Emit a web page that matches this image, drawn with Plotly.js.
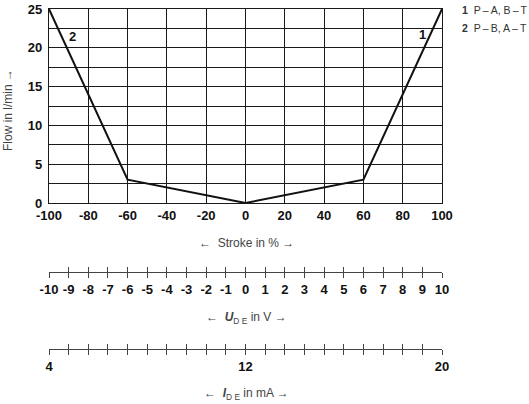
<!DOCTYPE html>
<html>
<head>
<meta charset="utf-8">
<script src="https://cdn.plot.ly/plotly-3.0.1.min.js"></script>
<style>html,body{margin:0;padding:0;background:#fff;}#chart{width:529px;height:404px;}</style>
</head>
<body>
<div id="chart"></div>
<script>
// Curve 1: P – A, B – T (positive stroke)
const stroke1 = [0, 60, 100];
const flow1 = [0, 3, 25];
// Curve 2: P – B, A – T (negative stroke)
const stroke2 = [-100, -60, 0];
const flow2 = [25, 3, 0];
// Legend entries
const legendNums = ['1', '2'];
const legendText = ['P\u2009–\u2009A, B\u2009–\u2009T', 'P\u2009–\u2009B, A\u2009–\u2009T'];
// Curve label positions (stroke %, flow)
const curveLabelX = [90, -88];
const curveLabelY = [21.7, 21.4];
// Stroke axis ticks
const strokeTickVals = [-100, -80, -60, -40, -20, 0, 20, 40, 60, 80, 100];
const strokeTickText = ['-100', '-80', '-60', '-40', '-20', '0', '20', '40', '60', '80', '100'];
// Flow axis ticks
const flowTickVals = [0, 5, 10, 15, 20, 25];
const flowTickText = ['0', '5', '10', '15', '20', '25'];
// Voltage scale
const voltRange = [-10, 10];
const voltTickVals = [-10, -9, -8, -7, -6, -5, -4, -3, -2, -1, 0, 1, 2, 3, 4, 5, 6, 7, 8, 9, 10];
const voltTickText = ['-10', '-9', '-8', '-7', '-6', '-5', '-4', '-3', '-2', '-1', '0', '1', '2', '3', '4', '5', '6', '7', '8', '9', '10'];
// Current scale
const currentRange = [4, 20];
const currentTickVals = [4, 12, 20];
const currentTickText = ['4', '12', '20'];
const currentMinorStep = 0.8;

const F = '"Liberation Sans", Arial, sans-serif';
const tickFont = {family: F, size: 13, color: '#111', weight: 'bold'};
const titleFont = {family: F, size: 12, color: '#444'};
const lineCol = '#1a1a1a';
const axLineCol = '#444';

const traces = [
  {x: stroke2, y: flow2, mode: 'lines', line: {color: '#111', width: 2}, hoverinfo: 'skip', showlegend: false},
  {x: stroke1, y: flow1, mode: 'lines', line: {color: '#111', width: 2}, hoverinfo: 'skip', showlegend: false},
  {x: voltRange, y: [0, 0], xaxis: 'x2', yaxis: 'y', mode: 'lines', opacity: 0, hoverinfo: 'skip', showlegend: false},
  {x: currentRange, y: [0, 0], xaxis: 'x3', yaxis: 'y', mode: 'lines', opacity: 0, hoverinfo: 'skip', showlegend: false},
  {x: voltRange, y: [0, 0], xaxis: 'x4', yaxis: 'y', mode: 'lines', opacity: 0, hoverinfo: 'skip', showlegend: false},
  {x: currentRange, y: [0, 0], xaxis: 'x5', yaxis: 'y', mode: 'lines', opacity: 0, hoverinfo: 'skip', showlegend: false}
];

const H = 404, T = 9, B = 20;
const plotH = H - T - B;
const fy = p => (H - B - p) / plotH;
const L = 49, R = 87;
const plotW = 529 - L - R;
const fx = p => (p - L) / plotW;

const freeAxis = (range, pos, ticksSide, extra) => Object.assign({
  overlaying: 'x', anchor: 'free', position: pos, range: range,
  showgrid: false, zeroline: false, showline: true, linecolor: axLineCol, linewidth: 1.3,
  ticks: ticksSide, ticklen: 5, tickwidth: 1, tickcolor: axLineCol,
  tickfont: tickFont, tickangle: 0, fixedrange: true
}, extra);

const annotations = [
  {xref: 'paper', yref: 'paper', x: fx(246), y: fy(243), text: '←  Stroke in % →', showarrow: false, font: titleFont, xanchor: 'center', yanchor: 'middle'},
  {xref: 'paper', yref: 'paper', x: fx(246), y: fy(318), text: '←  <b><i>U</i></b><sub>D E</sub> in V →', showarrow: false, font: titleFont, xanchor: 'center', yanchor: 'middle'},
  {xref: 'paper', yref: 'paper', x: fx(246), y: fy(394), text: '←  <b><i>I</i></b><sub>D E</sub> in mA →', showarrow: false, font: titleFont, xanchor: 'center', yanchor: 'middle'},
  {xref: 'paper', yref: 'paper', x: fx(8), y: fy(110), text: 'Flow in l/min →', textangle: -90, showarrow: false, font: {family: F, size: 12, color: '#444'}, xanchor: 'center', yanchor: 'middle'}
];
legendNums.forEach((n, i) => annotations.push({
  xref: 'paper', yref: 'paper', x: fx(460), y: fy(10 + i * 18),
  text: '<b>' + n + '</b>  ' + legendText[i], showarrow: false,
  font: {family: F, size: 10.5, color: '#333'}, xanchor: 'left', yanchor: 'middle'
}));
legendNums.forEach((n, i) => annotations.push({
  xref: 'x', yref: 'y', x: curveLabelX[i], y: curveLabelY[i],
  text: '<b>' + n + '</b>', showarrow: false,
  font: {family: F, size: 13, color: '#111'}, xanchor: 'center', yanchor: 'middle'
}));

const layout = {
  width: 529, height: 404,
  margin: {l: L, r: R, t: T, b: B},
  paper_bgcolor: '#fff', plot_bgcolor: '#fff',
  showlegend: false,
  xaxis: {
    domain: [0, 1], range: [-100, 100],
    tickmode: 'array', tickvals: strokeTickVals, ticktext: strokeTickText, tickangle: 0,
    showgrid: true, gridcolor: lineCol, gridwidth: 1,
    zeroline: false, showline: true, linecolor: lineCol, linewidth: 1.2, mirror: true,
    ticks: '', tickfont: tickFont, fixedrange: true
  },
  yaxis: {
    domain: [fy(203), 1], range: [0, 25],
    tickmode: 'array', tickvals: flowTickVals, ticktext: flowTickText,
    showgrid: true, gridcolor: lineCol, gridwidth: 1,
    minor: {tick0: 0, dtick: 2.5, showgrid: true, gridcolor: lineCol, gridwidth: 1},
    zeroline: false, showline: true, linecolor: lineCol, linewidth: 1.2, mirror: true,
    ticks: '', ticklabelstandoff: 3, tickfont: tickFont, fixedrange: true
  },
  xaxis2: freeAxis(voltRange, fy(272), 'outside', {tickmode: 'array', tickvals: voltTickVals, ticktext: voltTickText}),
  xaxis4: freeAxis(voltRange, fy(272), 'inside', {tickmode: 'array', tickvals: voltTickVals, showticklabels: false}),
  xaxis3: freeAxis(currentRange, fy(349), 'outside', {
    tickmode: 'array', tickvals: currentTickVals, ticktext: currentTickText,
    minor: {tick0: currentRange[0], dtick: currentMinorStep, ticks: 'outside', ticklen: 5, tickwidth: 1, tickcolor: axLineCol}
  }),
  xaxis5: freeAxis(currentRange, fy(349), 'inside', {
    tickmode: 'array', tickvals: currentTickVals, showticklabels: false,
    minor: {tick0: currentRange[0], dtick: currentMinorStep, ticks: 'inside', ticklen: 5, tickwidth: 1, tickcolor: axLineCol}
  }),
  annotations: annotations
};

Plotly.newPlot('chart', traces, layout, {displayModeBar: false, staticPlot: true});
</script>
</body>
</html>
